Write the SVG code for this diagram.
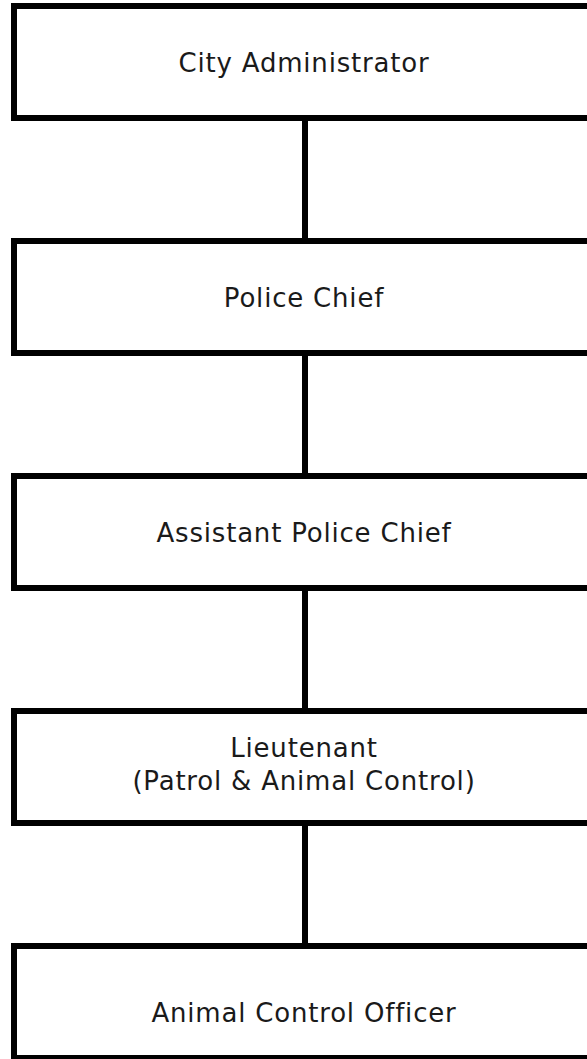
<svg xmlns="http://www.w3.org/2000/svg" width="587" height="1059" viewBox="0 0 587 1059">
  <style>
    .box { fill: #ffffff; stroke: #000000; stroke-width: 6; }
    .link { stroke: #000000; stroke-width: 6; fill: none; }
    .label { font-family: "DejaVu Sans", "Liberation Sans", sans-serif; font-size: 26px; letter-spacing: 0.8px; fill: #1a1a1a; text-anchor: middle; }
  </style>
  <rect width="587" height="1059" fill="#ffffff"/>

  <!-- reporting lines -->
  <g id="connectors">
    <line class="link" x1="305" y1="118" x2="305" y2="241"/>
    <line class="link" x1="305" y1="353" x2="305" y2="476"/>
    <line class="link" x1="305" y1="588" x2="305" y2="711"/>
    <line class="link" x1="305" y1="823" x2="305" y2="946"/>
  </g>

  <g id="city-administrator">
    <rect class="box" x="14" y="6" width="580" height="112"/>
    <text class="label" x="304" y="72">City Administrator</text>
  </g>

  <g id="police-chief">
    <rect class="box" x="14" y="241" width="580" height="112"/>
    <text class="label" x="304" y="307">Police Chief</text>
  </g>

  <g id="assistant-police-chief">
    <rect class="box" x="14" y="476" width="580" height="112"/>
    <text class="label" x="304" y="542">Assistant Police Chief</text>
  </g>

  <g id="lieutenant">
    <rect class="box" x="14" y="711" width="580" height="112"/>
    <text class="label" x="304" y="757">Lieutenant</text>
    <text class="label" x="304" y="790">(Patrol &amp; Animal Control)</text>
  </g>

  <g id="animal-control-officer">
    <rect class="box" x="14" y="946" width="580" height="112"/>
    <text class="label" x="304" y="1022">Animal Control Officer</text>
  </g>
</svg>
